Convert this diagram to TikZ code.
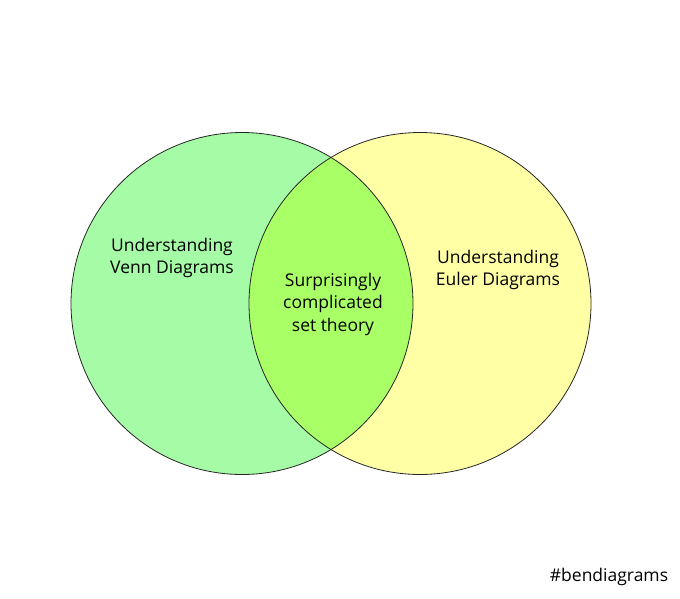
\documentclass[tikz,border=0pt]{standalone}
\usepackage{fontspec}
\setmainfont{Open Sans}
\definecolor{vennfill}{RGB}{166,251,166}
\definecolor{eulerfill}{RGB}{255,255,166}
\definecolor{lensfill}{RGB}{168,255,102}
\tikzset{
  setcirc/.style={circle,draw=black!85,line width=0.8pt,minimum size=342pt,inner sep=0pt},
  lbl/.style={align=center,font=\fontsize{17.5}{22.5}\selectfont}
}

\begin{document}
\begin{tikzpicture}[x=1pt,y=-1pt]
  \useasboundingbox (0,0) rectangle (680,598);
  % fills first, lens on top
  \fill[vennfill] (242,303.5) circle (171);
  \fill[eulerfill] (420,303.5) circle (171);
  \begin{scope}
    \clip (242,303.5) circle (171);
    \fill[lensfill] (420,303.5) circle (171);
  \end{scope}
  \node[setcirc] (venn) at (242,303.5) {};
  \node[setcirc] (euler) at (420,303.5) {};
  \node[lbl] (vennlbl) at (172,258) {Understanding\\Venn Diagrams};
  \node[lbl] (lenslbl) at (333,304) {Surprisingly\\complicated\\set theory};
  \node[lbl] (eulerlbl) at (498,270) {Understanding\\Euler Diagrams};
  \node[lbl] (tag) at (609,577) {\#bendiagrams};
\end{tikzpicture}
\end{document}
